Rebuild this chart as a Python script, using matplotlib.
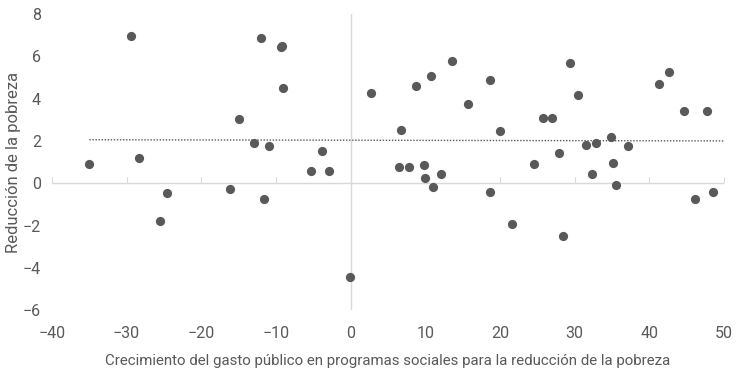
import matplotlib.pyplot as plt
import numpy as np

# gasto publico (x) vs reduccion de la pobreza (y)
gasto = [-35.0, -29.4, -28.3, -25.5, -24.6, -16.2, -15.0, -13.0, -12.0, -11.6,
         -10.9, -9.3, -9.2, -9.0, -5.35, -3.9, -2.85, -0.1, 2.7, 6.8,
         6.5, 7.8, 8.7, 9.8, 9.95, 10.75, 11.0, 12.05, 13.6, 15.75,
         18.7, 18.7, 20.0, 21.6, 24.5, 25.7, 26.9, 27.9, 28.4, 29.4,
         30.4, 31.5, 32.3, 32.9, 34.85, 35.1, 35.5, 37.1, 41.3, 42.7,
         44.7, 46.1, 47.7, 48.5]
reduccion = [0.89, 6.94, 1.2, -1.8, -0.45, -0.26, 3.03, 1.88, 6.85, -0.73,
             1.77, 6.42, 6.48, 4.52, 0.59, 1.52, 0.56, -4.44, 4.25, 2.51,
             0.79, 0.75, 4.6, 0.87, 0.26, 5.06, -0.2, 0.46, 5.79, 3.73,
             4.9, -0.43, 2.46, -1.91, 0.92, 3.1, 3.07, 1.45, -2.48, 5.68,
             4.16, 1.83, 0.46, 1.88, 2.18, 0.97, -0.07, 1.78, 4.69, 5.26,
             3.41, -0.76, 3.43, -0.4]
xticks = [-40, -30, -20, -10, 0, 10, 20, 30, 40, 50]
yticks = [-6, -4, -2, 0, 2, 4, 6, 8]

gris = '#595959'
linea = '#d9d9d9'
plt.rcParams['font.family'] = ['Roboto', 'DejaVu Sans']

fig = plt.figure(figsize=(7.38, 3.68), dpi=100)
ax = fig.add_axes([0.0705, 0.157, 0.9105, 0.805])

ax.set_xlim(-40, 50)
ax.set_ylim(-6, 8)

# ejes cruzando en cero
ax.axvline(0, color=linea, lw=1, zorder=1)
ax.axhline(0, color=linea, lw=1, zorder=1)
for s in ax.spines.values():
    s.set_visible(False)

ax.set_xticks(xticks)
ax.set_yticks(yticks)
ax.set_xticklabels([str(t).replace('-', '\u2212') for t in xticks])
ax.set_yticklabels([str(t).replace('-', '\u2212') for t in yticks])
ax.tick_params(length=0, labelsize=11.5, colors=gris)
ax.tick_params(axis='x', pad=11)
ax.tick_params(axis='y', pad=8)

# marcas pequenas sobre el eje horizontal
sec = ax.secondary_xaxis(0, transform=ax.transData)
sec.set_xticks(xticks)
sec.tick_params(direction='in', length=4, color=linea, labelbottom=False)
sec.spines['bottom'].set_visible(False)

ax.scatter(gasto, reduccion, s=44, color=gris, zorder=3, linewidths=0)

# linea de tendencia
m, b = np.polyfit(gasto, reduccion, 1)
xt = np.array([min(gasto), 50])
ax.plot(xt, m * xt + b, ls=(0, (1, 1.2)), color=gris, lw=1, zorder=2)

ax.set_xlabel('Crecimiento del gasto público en programas sociales para la reducción de la pobreza',
              fontsize=10.8, color=gris, labelpad=10)
ax.set_ylabel('Reducción de la pobreza', fontsize=12, color=gris, labelpad=1)

fig.savefig('out.png', dpi=100)
